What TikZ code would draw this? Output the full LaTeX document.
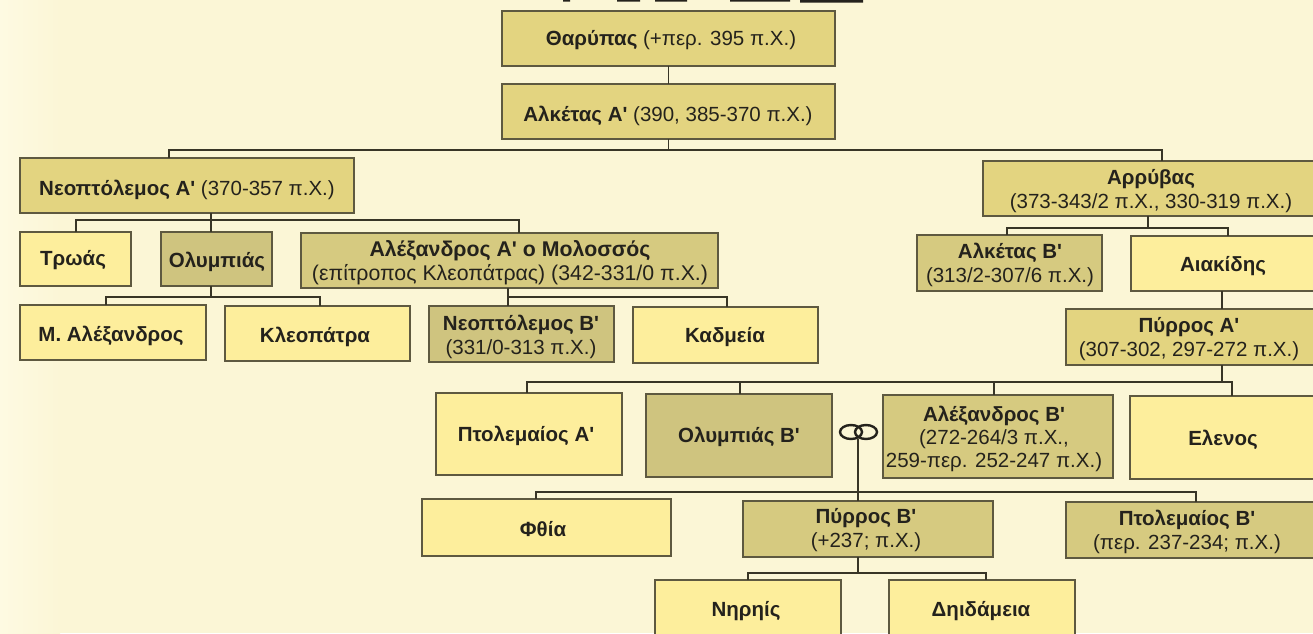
\documentclass[tikz,border=0pt]{standalone}
\usepackage{fontspec}
\newfontfamily\gr{Liberation Sans}
\usetikzlibrary{calc}
\definecolor{paper}{HTML}{FBF6D6}
\definecolor{paperL}{HTML}{FEFAE2}
\definecolor{kingc}{HTML}{E3D480}
\definecolor{olivec}{HTML}{D6CA80}
\definecolor{greyc}{HTML}{CFC47F}
\definecolor{pale}{HTML}{FDEE9C}
\definecolor{ink}{HTML}{5E5940}
\definecolor{txt}{HTML}{24221C}
\tikzset{
  x=1pt,y=-1pt,
  boxb/.style={draw=ink,line width=1.3pt,outer sep=0pt,inner sep=0pt},
  king/.style={boxb,fill=kingc},
  oliveb/.style={boxb,fill=olivec},
  greyb/.style={boxb,fill=greyc},
  plain/.style={boxb,fill=pale},
  lbl/.style={text=txt,font=\gr\fontsize{20.5}{24}\selectfont,align=center,inner sep=0pt,yshift=-1.5pt},
  lbs/.style={text=txt,font=\gr\fontsize{20.5}{23}\selectfont,align=center,inner sep=0pt,yshift=-1.5pt},
  lbw/.style={text=txt,font=\gr\fontsize{21.3}{24}\selectfont,align=center,inner sep=0pt,yshift=-1.5pt},
  conn/.style={draw=ink!60!black,line width=1.4pt},
}
\newcommand{\bx}[6]{%
  \pgfmathsetmacro{\cxx}{(#2+#4)/2}\pgfmathsetmacro{\cyy}{(#3+#5)/2}%
  \pgfmathsetmacro{\ww}{#4-#2}\pgfmathsetmacro{\hh}{#5-#3}%
  \node[#6,minimum width=\ww pt,minimum height=\hh pt] (#1) at (\cxx,\cyy) {};}
\begin{document}
\begin{tikzpicture}
\useasboundingbox (0,0) rectangle (1313,633);
\clip (0,0) rectangle (1313,633);
\fill[left color=paperL,right color=paper] (0,0) rectangle (60,633);
\fill[paper] (60,0) rectangle (1313,633);
\fill[txt] (563,0) rectangle (570,1.5) (617,0) rectangle (640,1.5) (655,0) rectangle (687,1.5)
  (730,0) rectangle (790,1.5) (800,0) rectangle (863,2.5);

\bx{tha}{502}{11}{835}{66}{king}
\bx{alkA}{502}{84}{835}{139}{king}
\bx{neoA}{20}{158}{354}{213}{king}
\bx{arr}{983}{161}{1320}{216}{king}
\bx{tro}{20}{232}{131}{286}{plain}
\bx{oly}{161}{232}{272}{286}{greyb}
\bx{aleA}{301}{233}{718}{288}{oliveb}
\bx{alkB}{917}{235}{1102}{291}{oliveb}
\bx{aia}{1131}{236}{1320}{291}{plain}
\bx{mal}{20}{305}{206}{360}{plain}
\bx{kle}{225}{306}{410}{361}{plain}
\bx{neoB}{429}{306}{614}{362}{greyb}
\bx{kad}{633}{307}{818}{363}{plain}
\bx{pyrA}{1066}{309}{1320}{365}{king}
\bx{ptoA}{436}{393}{622}{475}{plain}
\bx{olB}{646}{394}{832}{477}{greyb}
\bx{aleB}{883}{395}{1113}{478}{oliveb}
\bx{ele}{1130}{396}{1320}{479}{plain}
\bx{fth}{422}{499}{671}{556}{plain}
\bx{pyrB}{743}{501}{993}{557}{oliveb}
\bx{ptoB}{1066}{502}{1320}{558}{oliveb}
\bx{nir}{655}{580}{841}{640}{plain}
\bx{did}{889}{580}{1075}{640}{plain}

\node[lbl] (thaT) at (671,39) {\textbf{Θαρύπας} (+περ. 395 π.Χ.)};
\node[lbl] (alkAT) at (668,114) {\textbf{Αλκέτας Α'} (390, 385-370 π.Χ.)};
\node[lbl] (neoAT) at (187,188) {\textbf{Νεοπτόλεμος Α'} (370-357 π.Χ.)};
\node[lbl] (arrT) at (1151,190) {\textbf{Αρρύβας}\\(373-343/2 π.Χ., 330-319 π.Χ.)};
\node[lbl] (troT) at (73,259) {\textbf{Τρωάς}};
\node[lbl] (olyT) at (217,260) {\textbf{Ολυμπιάς}};
\node[lbw] (aleAT) at (510,261) {\textbf{Αλέξανδρος Α' ο Μολοσσός}\\(επίτροπος Κλεοπάτρας) (342-331/0 π.Χ.)};
\node[lbl] (alkBT) at (1010,263) {\textbf{Αλκέτας Β'}\\(313/2-307/6 π.Χ.)};
\node[lbl] (aiaT) at (1223,265) {\textbf{Αιακίδης}};
\node[lbl] (malT) at (111,334) {\textbf{Μ. Αλέξανδρος}};
\node[lbl] (kleT) at (315,335) {\textbf{Κλεοπάτρα}};
\node[lbl] (neoBT) at (521,335) {\textbf{Νεοπτόλεμος Β'}\\(331/0-313 π.Χ.)};
\node[lbl] (kadT) at (725,336) {\textbf{Καδμεία}};
\node[lbl] (pyrAT) at (1189,338) {\textbf{Πύρρος Α'}\\(307-302, 297-272 π.Χ.)};
\node[lbl] (ptoAT) at (526,434) {\textbf{Πτολεμαίος Α'}};
\node[lbl] (olBT) at (739,435) {\textbf{Ολυμπιάς Β'}};
\node[lbs] (aleBT) at (994,437) {\textbf{Αλέξανδρος Β'}\\(272-264/3 π.Χ.,\\259-περ. 252-247 π.Χ.)};
\node[lbl] (eleT) at (1223,438) {\textbf{Ελενος}};
\node[lbl] (fthT) at (543,528) {\textbf{Φθία}};
\node[lbl] (pyrBT) at (866,529) {\textbf{Πύρρος Β'}\\(+237; π.Χ.)};
\node[lbl] (ptoBT) at (1187,530) {\textbf{Πτολεμαίος Β'}\\(περ. 237-234; π.Χ.)};
\node[lbl] (nirT) at (746,610) {\textbf{Νηρηίς}};
\node[lbl] (didT) at (981,610) {\textbf{Δηιδάμεια}};

% connectors
\begin{scope}[conn]
\draw (tha.south) -- (alkA.north);
\coordinate (b1L) at (169,150); \coordinate (b1R) at (1162,150);
\draw (alkA.south) -- (alkA.south |- b1L);
\draw (neoA.north -| b1L) -- (b1L) -- (b1R) -- (b1R |- arr.north);

\coordinate (b2a) at (76,220); \coordinate (b2b) at (211,220); \coordinate (b2c) at (519,220);
\draw (b2b |- neoA.south) -- (b2b |- oly.north);
\draw (tro.north -| b2a) -- (b2a) -- (b2c) -- (b2c |- aleA.north);

\coordinate (b3a) at (106,297); \coordinate (b3b) at (211,297); \coordinate (b3c) at (320,297);
\draw (b3b |- oly.south) -- (b3b);
\draw (b3a |- mal.north) -- (b3a) -- (b3c) -- (b3c |- kle.north);

\coordinate (b4a) at (508,297); \coordinate (b4c) at (727,297);
\draw (aleA.south -| b4a) -- (b4a |- neoB.north);
\draw (b4a) -- (b4c) -- (b4c |- kad.north);

\coordinate (b5a) at (1007,228); \coordinate (b5b) at (1148,228); \coordinate (b5c) at (1228,228);
\draw (b5b |- arr.south) -- (b5b);
\draw (b5a |- alkB.north) -- (b5a) -- (b5c) -- (b5c |- aia.north);

\coordinate (b6) at (1222,300);
\draw (b6 |- aia.south) -- (b6 |- pyrA.north);

\coordinate (b7a) at (527,382); \coordinate (b7b) at (740,382); \coordinate (b7c) at (994,382);
\coordinate (b7d) at (1222,382); \coordinate (b7e) at (1232,382);
\draw (b7d |- pyrA.south) -- (b7d);
\draw (b7a |- ptoA.north) -- (b7a) -- (b7e) -- (b7e |- ele.north);
\draw (b7b) -- (b7b |- olB.north);
\draw (b7c) -- (b7c |- aleB.north);

\coordinate (b8a) at (536,492); \coordinate (b8b) at (858,492); \coordinate (b8c) at (1196,492);
\draw (b8a |- fth.north) -- (b8a) -- (b8c) -- (b8c |- ptoB.north);

\coordinate (b9a) at (748,573); \coordinate (b9b) at (858,573); \coordinate (b9c) at (986,573);
\draw (b9b |- pyrB.south) -- (b9b);
\draw (b9a |- nir.north) -- (b9a) -- (b9c) -- (b9c |- did.north);
\end{scope}

% marriage rings
\coordinate (ringL) at (851,432); \coordinate (ringR) at (866,432);
\draw[draw=txt,line width=2.4pt] (ringL) ellipse [x radius=11,y radius=7];
\draw[draw=txt,line width=2.4pt] (ringR) ellipse [x radius=11,y radius=7];
\draw[conn] (858,439) -- (b8b) -- (b8b |- pyrB.north);
\end{tikzpicture}
\end{document}
